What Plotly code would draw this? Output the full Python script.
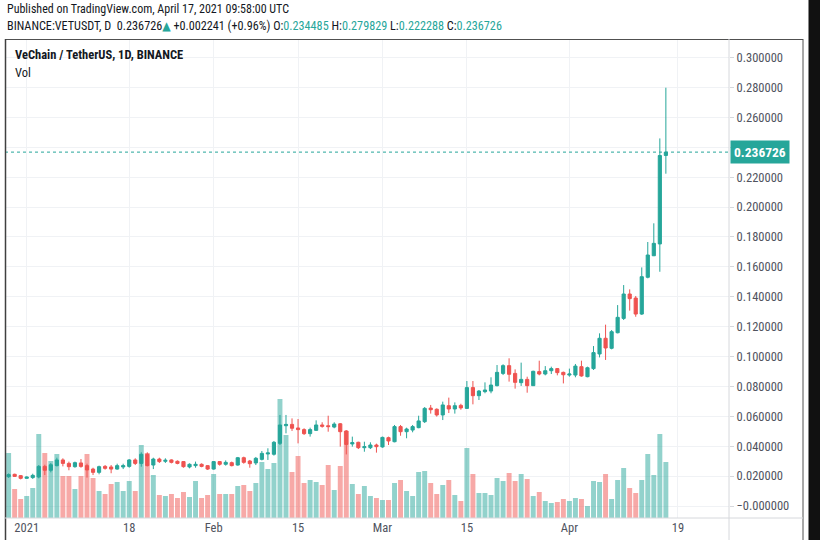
import plotly.graph_objects as go
import pandas as pd

# daily VETUSDT candles, Dec 29 2020 .. Apr 17 2021
DATES = pd.date_range('2020-12-29', '2021-04-17', freq='D')

OPEN = [
  .0196,.0212,.0203,.0185,.0190,.0194,.0265,.0239,.0270,.0308,
  .0285,.0263,.0288,.0270,.0247,.0225,.0265,.0261,.0247,.0261,
  .0265,.0308,.0285,.0346,.0274,.0314,.0299,.0308,.0299,.0297,
  .0261,.0270,.0279,.0270,.0247,.0297,.0279,.0290,.0274,.0323,
  .0301,.0288,.0312,.0348,.0346,.0419,.0537,.0546,.0522,.0511,
  .0484,.0506,.0542,.0537,.0528,.0550,.0502,.0415,.0426,.0390,
  .0390,.0408,.0395,.0457,.0430,.0531,.0497,.0508,.0524,.0564,
  .0655,.0647,.0609,.0671,.0649,.0673,.0653,.0792,.0738,.0765,
  .0769,.0805,.0887,.0939,.0887,.0825,.0847,.0805,.0899,.0883,
  .0905,.0919,.0894,.0876,.0876,.0932,.0865,.0919,.1017,.1122,
  .1055,.1159,.1255,.1418,.1391,.1284,.1530,.1674,.1753,.234485,
]
HIGH = [
  .0218,.0216,.0207,.0198,.0216,.0274,.0276,.0288,.0323,.0319,
  .0297,.0297,.0314,.0283,.0256,.0270,.0274,.0274,.0283,.0283,
  .0314,.0319,.0359,.0359,.0323,.0323,.0319,.0312,.0305,.0301,
  .0285,.0297,.0285,.0274,.0301,.0301,.0305,.0297,.0328,.0330,
  .0308,.0328,.0368,.0386,.0435,.0609,.0609,.0586,.0582,.0520,
  .0524,.0573,.0560,.0604,.0560,.0555,.0508,.0464,.0430,.0430,
  .0426,.0417,.0464,.0464,.0542,.0542,.0524,.0542,.0604,.0662,
  .0676,.0653,.0698,.0725,.0693,.0684,.0836,.0836,.0776,.0827,
  .0861,.0943,.0948,.0988,.0914,.0959,.0865,.0905,.0972,.0936,
  .0932,.0923,.0899,.0919,.0950,.0972,.0932,.1070,.1155,.1213,
  .1177,.1344,.1478,.1449,.1405,.1596,.1766,.1891,.2459,.279829,
]
LOW = [
  .0188,.0194,.0178,.0183,.0181,.0185,.0207,.0225,.0265,.0265,
  .0239,.0256,.0256,.0190,.0207,.0212,.0243,.0219,.0243,.0247,
  .0256,.0274,.0263,.0265,.0247,.0288,.0288,.0285,.0279,.0256,
  .0252,.0256,.0259,.0241,.0243,.0270,.0270,.0265,.0270,.0283,
  .0256,.0274,.0305,.0308,.0337,.0408,.0486,.0502,.0419,.0475,
  .0464,.0502,.0524,.0497,.0520,.0397,.0345,.0397,.0381,.0363,
  .0381,.0357,.0390,.0408,.0426,.0470,.0453,.0493,.0520,.0555,
  .0618,.0598,.0575,.0622,.0618,.0644,.0649,.0680,.0709,.0754,
  .0754,.0800,.0876,.0832,.0785,.0803,.0758,.0803,.0874,.0874,
  .0883,.0874,.0820,.0865,.0861,.0865,.0861,.0910,.0994,.0977,
  .1048,.1155,.1244,.1307,.1266,.1278,.1523,.1672,.1567,.222288,
]
CLOSE = [
  .0210,.0198,.0185,.0194,.0205,.0265,.0239,.0276,.0308,.0285,
  .0263,.0290,.0265,.0241,.0225,.0263,.0252,.0247,.0270,.0270,
  .0308,.0285,.0346,.0270,.0314,.0297,.0306,.0292,.0285,.0263,
  .0279,.0279,.0265,.0247,.0297,.0279,.0292,.0270,.0323,.0292,
  .0283,.0319,.0352,.0355,.0426,.0542,.0546,.0520,.0511,.0484,
  .0511,.0542,.0533,.0531,.0548,.0497,.0412,.0424,.0390,.0397,
  .0408,.0397,.0459,.0435,.0531,.0497,.0515,.0531,.0569,.0653,
  .0644,.0609,.0676,.0649,.0671,.0656,.0792,.0738,.0769,.0776,
  .0809,.0894,.0939,.0881,.0827,.0847,.0805,.0901,.0883,.0905,
  .0919,.0892,.0878,.0883,.0936,.0870,.0925,.1026,.1122,.1057,
  .1166,.1262,.1418,.1387,.1284,.1534,.1679,.1757,.234485,.236726,
]
# volume, millions of VET
VOLUME = [
  2600,1160,760,880,1200,3360,2600,2280,2560,1680,
  1680,1160,1680,2560,1600,1080,960,1360,1440,1080,
  1480,1080,2920,2600,1720,920,880,960,800,1040,
  840,1480,800,920,1760,960,960,960,1280,1320,
  1080,1400,2240,1960,2200,4760,3320,1840,2480,1400,
  1520,1440,1320,2120,1120,2080,3480,1360,960,1280,
  880,800,720,720,1400,1520,1080,880,1840,1880,
  1400,960,1320,1520,920,680,2800,1760,1000,1000,
  920,1600,1480,1800,1480,1760,1560,880,1040,680,
  600,640,760,680,800,760,480,1480,1440,1760,
  760,1520,2000,1200,1000,1520,2560,1720,3360,2240,
]

LAST = 0.236726
PRICE_TICKS = [i*0.02 for i in range(16)]
PRICE_TICKTEXT = ['−0.000000'] + ['%.6f' % v for v in PRICE_TICKS[1:]]
DATE_TICKS = ['2021-01-01','2021-01-18','2021-02-01','2021-02-15',
              '2021-03-01','2021-03-15','2021-04-01','2021-04-19']
DATE_TICKTEXT = ['2021','18','Feb','15','Mar','15','Apr','19']

UP   = '#26a69a'
DOWN = '#ef5350'
UP_VOL   = 'rgba(38,166,154,0.5)'
DOWN_VOL = 'rgba(239,83,80,0.5)'
GRID = '#f0f2f5'
FONT = 'Liberation Sans Narrow, Roboto Condensed, DejaVu Sans Condensed, sans-serif'
TEXT = '#131722'

W, H = 820, 540
L, R, T, B = 5, 729, 39, 518   # plot area in pixels

def px(x):
  return (x - L)/(R - L)

def py(y):
  return (B - y)/(B - T)

vol_colors = [UP_VOL if c >= o else DOWN_VOL for o, c in zip(OPEN, CLOSE)]

fig = go.Figure()
fig.add_trace(go.Bar(
  x=DATES, y=VOLUME, yaxis='y',
  marker=dict(color=vol_colors, line_width=0),
  width=0.82*86400000,
  hoverinfo='skip',
))
fig.add_trace(go.Candlestick(
  x=DATES, open=OPEN, high=HIGH, low=LOW, close=CLOSE, yaxis='y2',
  increasing=dict(line=dict(color=UP, width=1), fillcolor=UP),
  decreasing=dict(line=dict(color=DOWN, width=1), fillcolor=DOWN),
  whiskerwidth=0,
))

fig.update_layout(
  width=W, height=H,
  margin=dict(l=L, r=W-R, t=T, b=H-B, pad=0),
  paper_bgcolor='white', plot_bgcolor='white',
  showlegend=False,
  boxgap=0.25,
  font=dict(family=FONT, size=12, color=TEXT),
  xaxis=dict(
    type='date',
    range=['2020-12-28 09:36', '2021-04-27 11:16'],
    rangeslider=dict(visible=False),
    tickvals=DATE_TICKS, ticktext=DATE_TICKTEXT,
    showgrid=True, gridcolor=GRID, gridwidth=1,
    zeroline=False, showline=False, ticks='',
    tickfont=dict(size=12.5, color='#50535e'),
  ),
  yaxis=dict(range=[0, 19160], visible=False, fixedrange=True),
  yaxis2=dict(
    overlaying='y', side='right',
    range=[-0.00803, 0.3124],
    tickvals=PRICE_TICKS, ticktext=PRICE_TICKTEXT,
    showgrid=True, gridcolor=GRID, gridwidth=1,
    zeroline=False, showline=False,
    ticks='outside', ticklen=4, tickcolor='#d6d8dc',
    tickfont=dict(size=12.5, color='#50535e'),
  ),
)

SHAPES = [
  # last price line
  dict(type='line', xref='paper', yref='y2', x0=0, x1=1, y0=LAST, y1=LAST,
       line=dict(color=UP, width=1, dash='dot')),
  # frame
  dict(type='line', xref='paper', yref='paper', x0=px(5), x1=px(803), y0=py(39.5), y1=py(39.5),
       line=dict(color='#505050', width=1)),
  dict(type='line', xref='paper', yref='paper', x0=px(5.5), x1=px(5.5), y0=py(39), y1=py(541),
       line=dict(color='#404040', width=1.5)),
  dict(type='line', xref='paper', yref='paper', x0=px(803), x1=px(803), y0=py(39), y1=py(541),
       line=dict(color='#505050', width=1)),
  # price scale divider and time axis line
  dict(type='line', xref='paper', yref='paper', x0=px(729), x1=px(729), y0=py(39), y1=py(541),
       line=dict(color='#d6d8dc', width=1)),
  dict(type='line', xref='paper', yref='paper', x0=px(5), x1=px(803), y0=py(518), y1=py(518),
       line=dict(color='#d6d8dc', width=1)),
  # dark strip on the right
  dict(type='rect', xref='paper', yref='paper', x0=px(808.5), x1=px(822), y0=py(542), y1=py(-2),
       fillcolor='#111111', line_width=0),
]
for s in SHAPES:
  fig.add_shape(**s)

teal = lambda s: f"<span style='color:{UP}'>{s}</span>"
header2 = ('BINANCE:VETUSDT, D  0.236726' + teal('▲') + ' +0.002241 (+0.96%) '
           'O:' + teal('0.234485') + ' H:' + teal('0.279829') +
           ' L:' + teal('0.222288') + ' C:' + teal('0.236726'))

ANNOTS = [
  dict(text='Published on TradingView.com, April 17, 2021 09:58:00 UTC', x=px(5), y=py(9), size=12),
  dict(text=header2, x=px(5), y=py(26), size=12.2),
  dict(text='<b>VeChain / TetherUS, 1D, BINANCE</b>', x=px(13), y=py(55), size=12.5),
  dict(text='Vol', x=px(13), y=py(72), size=12.5),
]
for a in ANNOTS:
  fig.add_annotation(
    text=a['text'], x=a['x'], y=a['y'], xref='paper', yref='paper',
    xanchor='left', yanchor='middle', showarrow=False,
    font=dict(family=FONT, size=a['size'], color=TEXT),
  )

# last price label on the scale
fig.add_annotation(
  text='<b>0.236726</b>', x=px(729.5), y=LAST, xref='paper', yref='y2',
  xanchor='left', yanchor='middle', showarrow=False,
  bgcolor=UP, borderpad=3,
  font=dict(family=FONT, size=13.5, color='white'),
)

# the page body has a default 8px margin; drop it so the figure sits at 0,0
fig.write_html('out.html', config={'displayModeBar': False},
               post_script="document.body.style.margin='0';")
